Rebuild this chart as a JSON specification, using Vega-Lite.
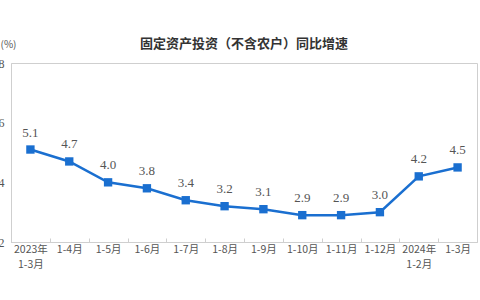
{
  "$schema": "https://vega.github.io/schema/vega-lite/v6.json",
  "autosize": {"type": "none"},
  "width": 466,
  "height": 179,
  "padding": {"left": 11, "top": 63, "right": 3, "bottom": 58},
  "background": "white",
  "title": {
    "text": "固定资产投资（不含农户）同比增速",
    "font": "Noto Sans CJK SC",
    "fontSize": 13,
    "fontWeight": "bold",
    "color": "#333333",
    "anchor": "middle",
    "offset": -12
  },
  "config": {
    "view": {"stroke": "#cfcfcf", "strokeWidth": 1},
    "axis": {"domainColor": "#cfcfcf", "tickColor": "#cfcfcf", "grid": false}
  },
  "data": {
    "values": [
      {"period": "2023年 1-3月", "value": 5.1},
      {"period": "1-4月", "value": 4.7},
      {"period": "1-5月", "value": 4.0},
      {"period": "1-6月", "value": 3.8},
      {"period": "1-7月", "value": 3.4},
      {"period": "1-8月", "value": 3.2},
      {"period": "1-9月", "value": 3.1},
      {"period": "1-10月", "value": 2.9},
      {"period": "1-11月", "value": 2.9},
      {"period": "1-12月", "value": 3.0},
      {"period": "2024年 1-2月", "value": 4.2},
      {"period": "1-3月 ", "value": 4.5}
    ]
  },
  "encoding": {
    "x": {
      "field": "period",
      "type": "nominal",
      "sort": null,
      "scale": {"paddingInner": 0, "paddingOuter": 0},
      "axis": {
        "title": null,
        "labelAngle": 0,
        "labelExpr": "split(trim(datum.label), ' ')",
        "labelFont": "Noto Sans CJK SC",
        "labelFontSize": 10.5,
        "labelColor": "#555555",
        "labelPadding": 6,
        "tickBand": "extent",
        "tickSize": -4,
        "labelLineHeight": 15
      }
    },
    "y": {
      "field": "value",
      "type": "quantitative",
      "scale": {"domain": [2, 8], "nice": false, "zero": false},
      "axis": {
        "values": [2, 4, 6, 8],
        "ticks": false,
        "labelPadding": 7,
        "labelFont": "Liberation Serif",
        "labelFontSize": 12,
        "labelColor": "#555555",
        "title": "(%)",
        "titleAngle": 0,
        "titleFont": "Noto Sans CJK SC",
        "titleFontSize": 10,
        "titleFontWeight": "normal",
        "titleColor": "#555555",
        "titleX": -11,
        "titleY": -14,
        "titleAlign": "left"
      }
    }
  },
  "layer": [
    {"mark": {"type": "line", "color": "#1a6fd0", "strokeWidth": 2.5}},
    {"mark": {"type": "point", "shape": "square", "filled": true, "size": 70, "color": "#1a6fd0", "opacity": 1}},
    {
      "mark": {"type": "text", "dy": -17, "font": "Liberation Serif", "fontSize": 13, "color": "#555555"},
      "encoding": {"text": {"field": "value", "type": "quantitative", "format": ".1f"}}
    }
  ]
}
